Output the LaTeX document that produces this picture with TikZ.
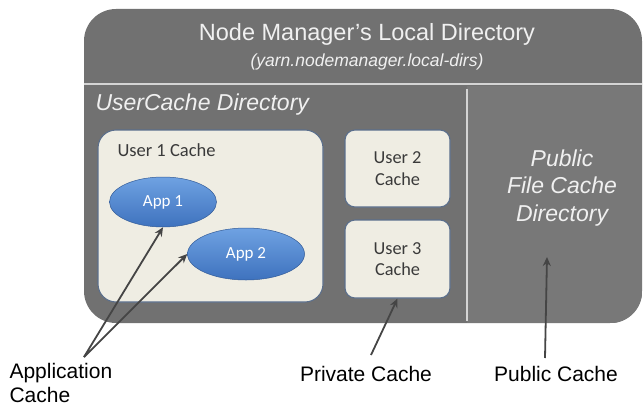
\documentclass[tikz,border=0pt]{standalone}
\usepackage{fontspec}
\setmainfont{Liberation Sans}
\newfontfamily\calib{Carlito}
\usetikzlibrary{shapes.geometric,arrows.meta}
\definecolor{boxgray}{HTML}{717171}
\definecolor{pubgray}{HTML}{787878}
\definecolor{linegray}{HTML}{D4D4D4}
\definecolor{cream}{HTML}{EFEDE3}
\definecolor{cborder}{HTML}{5B6F8C}
\definecolor{appt}{HTML}{6FA2E2}
\definecolor{appb}{HTML}{3E72BE}
\definecolor{arr}{HTML}{454545}
\definecolor{txtdark}{HTML}{3A3A3A}
\tikzset{
  cachebox/.style={draw=cborder, line width=1.1pt, fill=cream, rounded corners=10pt, inner sep=0pt},
  appnode/.style={ellipse, draw=appb!80!black, line width=0.5pt, top color=appt, bottom color=appb, text=white, font=\calib\fontsize{17}{20}\selectfont, inner sep=0pt},
  pointer/.style={draw=arr, line width=1.8pt, -{Stealth[length=9pt,width=8pt]}},
  lighttext/.style={text=white!88!gray},
  caption/.style={text=black, font=\fontsize{21}{24}\selectfont, align=left}
}
\begin{document}
\begin{tikzpicture}[x=1pt,y=-1pt]
\useasboundingbox (0,0) rectangle (644,409);
% outer box
\node[fill=boxgray, rounded corners=32pt, minimum width=558pt, minimum height=314pt, inner sep=0pt] (outer) at (363,166) {};
% public side
\begin{scope}
\clip[rounded corners=32pt] (outer.north west) rectangle (outer.south east);
\fill[pubgray] (467,86) rectangle (outer.south east);
\end{scope}
% header line and divider
\draw[linegray, line width=2.2pt] (outer.west |- 0,84) -- (outer.east |- 0,84);
\draw[linegray, line width=1.2pt] (467,89) -- (467,321);
% title
\node[lighttext, font=\fontsize{23.5}{26}\selectfont] (title) at (367,34) {Node Manager’s Local Directory};
\node[lighttext, font=\itshape\fontsize{17.5}{20}\selectfont] (sub) at (367,62) {(yarn.nodemanager.local-dirs)};
\node[lighttext, font=\itshape\fontsize{23}{26}\selectfont, anchor=west] (uc) at (92,105) {UserCache Directory};
% public file cache
\node[lighttext, font=\itshape\fontsize{23}{27.5}\selectfont, align=center] (pub) at (562,188) {Public\\File Cache\\Directory};
% user caches
\node[cachebox, rounded corners=18pt, minimum width=225pt, minimum height=172pt] (u1) at (210.5,216) {};
\node[anchor=west, text=txtdark, font=\calib\fontsize{18.5}{20}\selectfont] (u1l) at (114,150) {User 1 Cache};
\node[cachebox, minimum width=105pt, minimum height=77pt, align=center, text=txtdark, font=\calib\fontsize{18.3}{21.7}\selectfont] (u2) at (397.5,168.5) {User 2\\Cache};
\node[cachebox, minimum width=105pt, minimum height=78pt, align=center, text=txtdark, font=\calib\fontsize{18.3}{21.7}\selectfont] (u3) at (397.5,259) {User 3\\Cache};
% apps
\node[appnode, minimum width=107pt, minimum height=50pt] (app1) at (163,202) {App 1};
\node[appnode, minimum width=117pt, minimum height=52pt] (app2) at (246,254) {App 2};
% captions
\node[caption, anchor=north west] (capapp) at (6,360) {Application\\Cache};
\node[caption] (cappriv) at (366,374) {Private Cache};
\node[caption] (cappub) at (556,374) {Public Cache};
% pointers
\coordinate (appsrc) at (84,357);
\coordinate (privsrc) at (371,355);
\coordinate (pubsrc) at (545,358);
\coordinate (pubtip) at (547,257);
\draw[pointer] (appsrc) -- (app1.south);
\draw[pointer] (appsrc) -- (app2.west);
\draw[pointer] (privsrc) -- (u3.south);
\draw[pointer] (pubsrc) -- (pubtip);
\end{tikzpicture}
\end{document}
